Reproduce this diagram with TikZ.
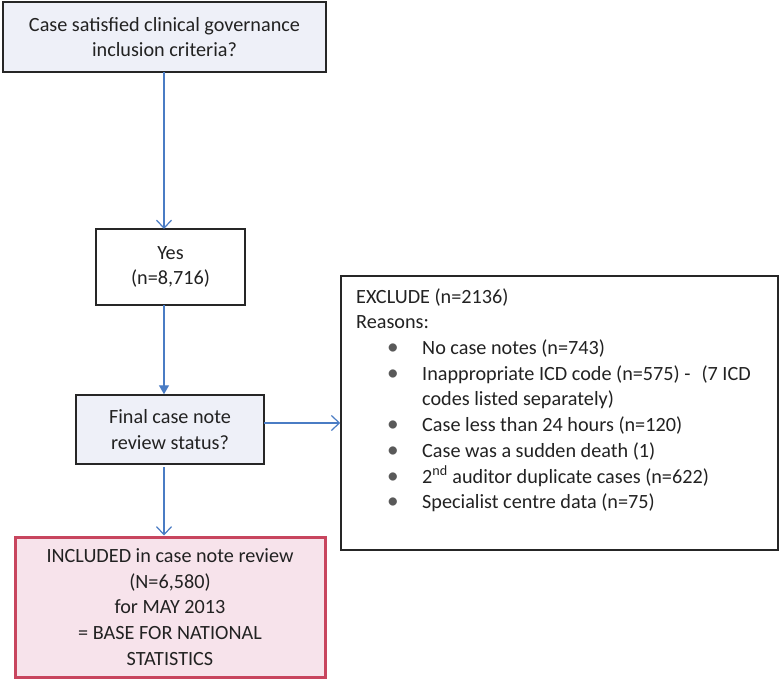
\documentclass[tikz,border=0pt]{standalone}
\usepackage{fontspec}
\setmainfont{Carlito}
\usetikzlibrary{arrows.meta,calc}
\definecolor{arrblue}{HTML}{4A7CC4}
\definecolor{boxblue}{HTML}{EEF0F8}
\definecolor{pinkfill}{HTML}{F7E3EB}
\definecolor{pinkline}{HTML}{C8455E}
\definecolor{textgray}{HTML}{222222}
\tikzset{
  every node/.style={font=\fontsize{20.2}{25.8}\selectfont, text=textgray},
  box/.style={draw=black!85, line width=1.5pt, align=center, inner sep=0pt},
  arr/.style={draw=arrblue, line width=1.4pt, -{Straight Barb[length=8pt,width=15pt,line width=1.2pt]}},
  arrf/.style={draw=arrblue, line width=1.4pt, -{Triangle[length=9pt,width=10pt]}},
  txt/.style={anchor=base west, inner sep=0pt},
  bul/.style={anchor=base, inner sep=0pt, text=black!65, scale=1.15}
}
\begin{document}
\begin{tikzpicture}[x=1pt,y=-1pt]
\useasboundingbox[fill=white] (0,0) rectangle (780,680);

\node[box, fill=boxblue, minimum width=323pt, minimum height=70pt] (top) at (164.5,37)
  {Case satisfied clinical governance\\inclusion criteria?};
\node[box, fill=white, minimum width=149pt, minimum height=76pt] (yes) at (170.5,267)
  {Yes\\(n=8,716)};
\node[box, fill=boxblue, minimum width=188pt, minimum height=69pt] (final) at (170,429.5)
  {Final case note\\review status?};
\node[box, draw=pinkline, line width=3pt, fill=pinkfill, minimum width=310pt, minimum height=140pt] (incl) at (170,607)
  {INCLUDED in case note review\\(N=6,580)\\for MAY 2013\\= BASE FOR NATIONAL\\STATISTICS};
\node[box, fill=white, minimum width=437pt, minimum height=274pt] (excl) at (559.5,413) {};

\node[txt] (e1) at (356,303) {EXCLUDE (n=2136)};
\node[txt] (e2) at (356,328.5) {Reasons:};
\foreach \yy/\tt [count=\i] in {354.5/No case notes (n=743),
   380/Inappropriate ICD code (n=575) -\hspace{11pt}(7 ICD,
   431.5/Case less than 24 hours (n=120),
   457/Case was a sudden death (1),
   483/2\textsuperscript{nd} auditor duplicate cases (n=622),
   508.5/Specialist centre data (n=75)}{
  \node[bul] (b\i) at (393,\yy) {\textbullet};
  \node[txt] (r\i) at (422,\yy) {\tt};
}
\node[txt] (r2b) at (422,405.5) {codes listed separately)};

\coordinate (a1s) at (164,72);
\coordinate (a1e) at (164,229);
\draw[arr] (a1s) -- (a1e);
\coordinate (a2s) at (164,305);
\draw[arrf] (a2s) -- (a2s |- final.north);
\coordinate (a3s) at (264,423);
\draw[arr] (a3s) -- (a3s -| excl.west);
\coordinate (a4s) at (164,467);
\draw[arr] (a4s) -- (a4s |- incl.north);
\end{tikzpicture}
\end{document}
